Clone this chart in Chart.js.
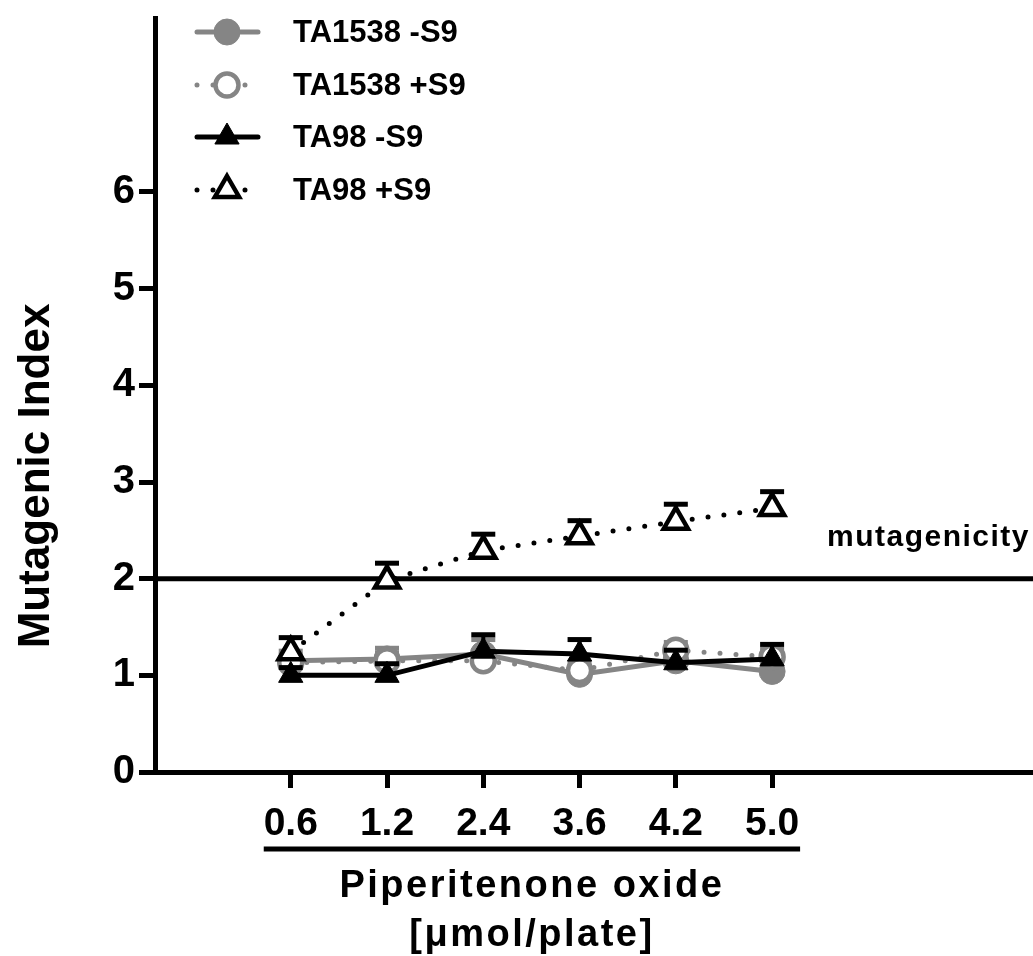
<!DOCTYPE html>
<html>
<head>
<meta charset="utf-8">
<script src="https://cdn.jsdelivr.net/npm/chart.js@4.4.0/dist/chart.umd.min.js"></script>
<style>
  html, body { margin: 0; padding: 0; background: #fff; }
</style>
</head>
<body>
<canvas id="chart" width="1033" height="956"></canvas>
<script>
const doses = ['0.6', '1.2', '2.4', '3.6', '4.2', '5.0'];
const yTicks = [0, 1, 2, 3, 4, 5, 6];

const ta1538Minus = [1.15, 1.17, 1.22, 1.01, 1.15, 1.04];
const ta1538MinusErr = [0.1, 0.11, 0.15, 0.08, 0.1, 0.08];
const ta1538Plus = [1.13, 1.15, 1.15, 1.05, 1.26, 1.19];
const ta1538PlusErr = [0.08, 0.08, 0.08, 0.08, 0.08, 0.08];
const ta98Minus = [1.0, 1.0, 1.25, 1.22, 1.13, 1.17];
const ta98MinusErr = [0.08, 0.12, 0.17, 0.15, 0.13, 0.15];
const ta98Plus = [1.24, 1.98, 2.29, 2.44, 2.59, 2.73];
const ta98PlusErr = [0.15, 0.18, 0.17, 0.16, 0.18, 0.17];

const threshold = 2;
const thresholdLabel = 'mutagenicity';
const xTitle = ['Piperitenone oxide', '[\u03bcmol/plate]'];
const yTitle = 'Mutagenic Index';

const GRAY = '#858585';
const FONT = "'Liberation Sans', Arial, sans-serif";

const series = [
  { label: 'TA1538 -S9', values: ta1538Minus, errors: ta1538MinusErr, color: GRAY, dotted: false, marker: 'circle', open: false, r: 13 },
  { label: 'TA1538 +S9', values: ta1538Plus, errors: ta1538PlusErr, color: GRAY, dotted: true, marker: 'circle', open: true, r: 11.5 },
  { label: 'TA98 -S9', values: ta98Minus, errors: ta98MinusErr, color: '#000', dotted: false, marker: 'triangle', open: false, r: 14 },
  { label: 'TA98 +S9', values: ta98Plus, errors: ta98PlusErr, color: '#000', dotted: true, marker: 'triangle', open: true, r: 14 }
];

function drawMarker(ctx, ds, x, y) {
  const r = ds.pointRadius;
  ctx.save();
  ctx.setLineDash([]);
  ctx.fillStyle = ds.pointBackgroundColor;
  ctx.strokeStyle = ds.pointBorderColor;
  ctx.lineWidth = ds.pointBorderWidth;
  ctx.beginPath();
  if (ds.pointStyle === 'triangle') {
    ctx.moveTo(x, y - r);
    ctx.lineTo(x + 0.866 * r, y + r / 2);
    ctx.lineTo(x - 0.866 * r, y + r / 2);
    ctx.closePath();
  } else {
    ctx.arc(x, y, r, 0, Math.PI * 2);
  }
  ctx.fill();
  ctx.stroke();
  ctx.restore();
}

// error bars (upper only), drawn just before each dataset so markers sit on top
const errorBars = {
  id: 'errorBars',
  beforeDatasetDraw(chart, args) {
    const ds = chart.data.datasets[args.index];
    const { ctx, scales: { x, y } } = chart;
    ctx.save();
    ctx.strokeStyle = ds.borderColor;
    ds.data.forEach((p, j) => {
      const px = x.getPixelForValue(p.x);
      const py = y.getPixelForValue(p.y);
      const top = y.getPixelForValue(p.y + ds.errors[j]);
      ctx.lineWidth = 4;
      ctx.beginPath();
      ctx.moveTo(px, py);
      ctx.lineTo(px, top);
      ctx.stroke();
      ctx.lineWidth = 5;
      ctx.beginPath();
      ctx.moveTo(px - 12, top);
      ctx.lineTo(px + 12, top);
      ctx.stroke();
    });
    ctx.restore();
  }
};

const decorations = {
  id: 'decorations',
  beforeDatasetsDraw(chart) {
    const { ctx, chartArea, scales: { y } } = chart;
    const ty = y.getPixelForValue(threshold);
    ctx.save();
    ctx.strokeStyle = '#000';
    ctx.lineWidth = 5;
    ctx.beginPath();
    ctx.moveTo(chartArea.left, ty);
    ctx.lineTo(chartArea.right, ty);
    ctx.stroke();
    ctx.fillStyle = '#000';
    ctx.font = `bold 30px ${FONT}`;
    ctx.letterSpacing = '1.5px';
    ctx.textAlign = 'right';
    ctx.textBaseline = 'middle';
    ctx.fillText(thresholdLabel, chartArea.right - 3, ty - 41);
    ctx.restore();
  },
  afterDraw(chart) {
    const { ctx, scales: { x, y } } = chart;
    ctx.save();
    ctx.fillStyle = '#000';
    ctx.strokeStyle = '#000';

    // x title with underline below tick labels
    const x0 = x.getPixelForValue(0) - 27;
    const x1 = x.getPixelForValue(doses.length - 1) + 28;
    const cx = (x0 + x1) / 2;
    ctx.lineWidth = 5;
    ctx.beginPath();
    ctx.moveTo(x0, 849);
    ctx.lineTo(x1, 849);
    ctx.stroke();
    ctx.font = `bold 38px ${FONT}`;
    ctx.letterSpacing = '2.5px';
    ctx.textAlign = 'center';
    ctx.textBaseline = 'middle';
    ctx.fillText(xTitle[0], cx, 887);
    ctx.fillText(xTitle[1], cx, 936);

    // y title
    ctx.save();
    ctx.translate(37, y.getPixelForValue(3) - 6);
    ctx.rotate(-Math.PI / 2);
    ctx.font = `bold 44px ${FONT}`;
    ctx.letterSpacing = '0px';
    ctx.fillText(yTitle, 0, 0);
    ctx.restore();

    // legend
    const rows = [32, 85, 137, 190];
    ctx.font = `bold 31px ${FONT}`;
    ctx.letterSpacing = '0px';
    ctx.textAlign = 'left';
    chart.data.datasets.forEach((ds, i) => {
      const ry = rows[i];
      ctx.save();
      ctx.strokeStyle = ds.borderColor;
      ctx.lineWidth = ds.borderWidth;
      ctx.lineCap = ds.borderCapStyle;
      ctx.setLineDash(ds.borderDash);
      ctx.beginPath();
      ctx.moveTo(197, ry);
      ctx.lineTo(258, ry);
      ctx.stroke();
      ctx.restore();
      drawMarker(ctx, ds, 227, ry);
      ctx.fillText(ds.label, 293, ry + 1);
    });
    ctx.restore();
  }
};

const tickFont = { family: FONT, size: 39, weight: 'bold' };

// drop the label overhang padding chart.js reserves so the plot box is exact
function noPad(s) {
  s.paddingTop = 0;
  s.paddingBottom = 0;
  s.paddingLeft = 0;
  s.paddingRight = 0;
}

new Chart(document.getElementById('chart'), {
  type: 'line',
  data: {
    datasets: series.map((s, i) => ({
      label: s.label,
      data: s.values.map((v, j) => ({ x: j, y: v })),
      errors: s.errors,
      borderColor: s.color,
      borderWidth: 5,
      borderDash: s.dotted ? [0, 16] : [],
      borderCapStyle: 'round',
      pointStyle: s.marker,
      pointRadius: s.r,
      pointBackgroundColor: s.open ? '#fff' : s.color,
      pointBorderColor: s.color,
      pointBorderWidth: s.open ? 4.5 : 1,
      fill: false,
      tension: 0,
      order: series.length - i
    }))
  },
  options: {
    responsive: false,
    animation: false,
    layout: { autoPadding: false, padding: { top: 18, left: 0, right: 0, bottom: 0 } },
    plugins: {
      legend: { display: false },
      tooltip: { enabled: false }
    },
    scales: {
      x: {
        type: 'linear',
        min: -1.41,
        max: 7.71,
        afterBuildTicks: s => { s.ticks = doses.map((d, i) => ({ value: i })); },
        afterFit: s => { s.height = 184; noPad(s); },
        ticks: {
          callback: v => doses[v],
          font: tickFont,
          color: '#000',
          padding: 13,
          maxRotation: 0
        },
        grid: { drawOnChartArea: false, drawTicks: true, tickLength: 16, tickWidth: 5, tickColor: '#000' },
        border: { display: true, color: '#000', width: 5 }
      },
      y: {
        min: 0,
        max: 7.8,
        afterBuildTicks: s => { s.ticks = yTicks.map(v => ({ value: v })); },
        afterFit: s => { s.width = 155; noPad(s); },
        ticks: {
          font: { family: FONT, size: 40, weight: 'bold' },
          color: '#000',
          padding: 4
        },
        grid: { drawOnChartArea: false, drawTicks: true, tickLength: 16, tickWidth: 5, tickColor: '#000' },
        border: { display: true, color: '#000', width: 5 }
      }
    }
  },
  plugins: [errorBars, decorations]
});
</script>
</body>
</html>
